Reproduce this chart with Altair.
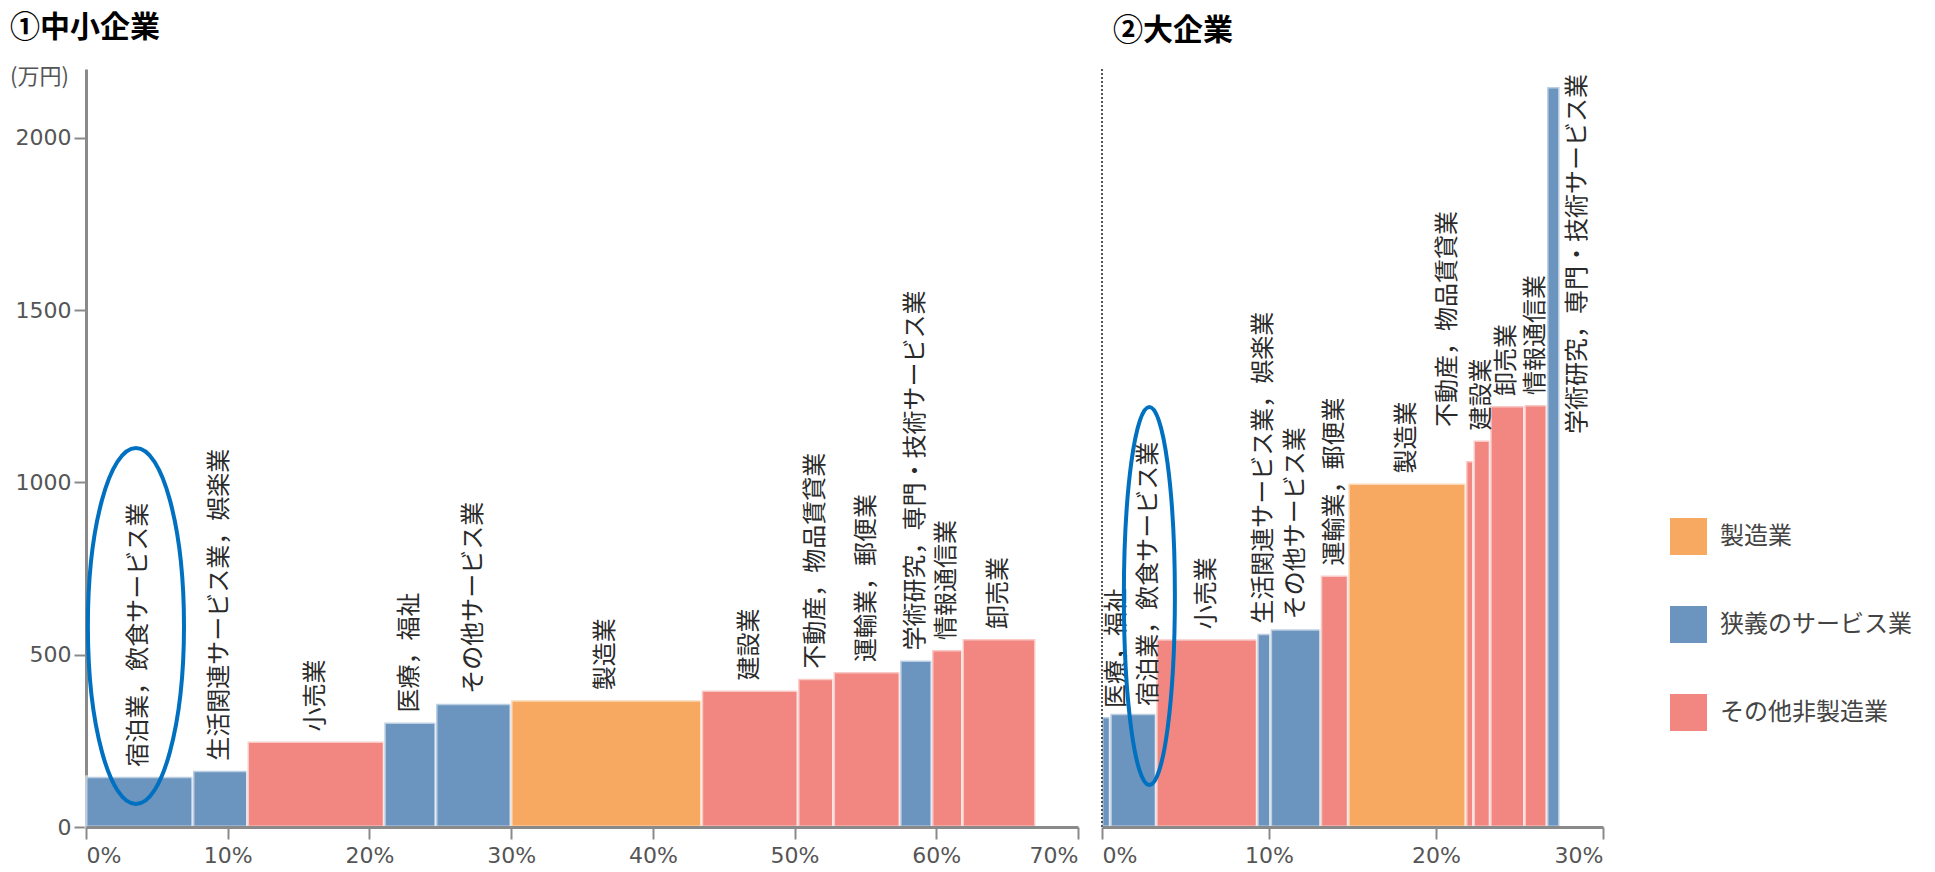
import altair as alt
import pandas as pd

MFG = "製造業"
SVC = "狭義のサービス業"
OTH = "その他非製造業"
groups = [MFG, SVC, OTH]
group_colors = ["#F7A861", "#6B94BE", "#F28781"]

# ① 中小企業 (SMEs)
sme_industry = ["宿泊業，飲食サービス業", "生活関連サービス業，娯楽業", "小売業", "医療，福祉",
                "その他サービス業", "製造業", "建設業", "不動産，物品賃貸業", "運輸業，郵便業",
                "学術研究，専門・技術サービス業", "情報通信業", "卸売業"]
sme_share = [7.55, 3.85, 9.65, 3.65, 5.3, 13.45, 6.8, 2.5, 4.7, 2.25, 2.15, 5.15]
sme_value = [146, 163, 248, 303, 358, 368, 396, 430, 450, 483, 514, 546]
sme_group = [SVC, SVC, OTH, SVC, SVC, MFG, OTH, OTH, OTH, SVC, OTH, OTH]

# ② 大企業 (large enterprises)
large_industry = ["医療，福祉", "宿泊業，飲食サービス業", "小売業", "生活関連サービス業，娯楽業",
                  "その他サービス業", "運輸業，郵便業", "製造業", "不動産，物品賃貸業", "建設業",
                  "卸売業", "情報通信業", "学術研究，専門・技術サービス業"]
large_share = [0.5, 2.75, 6.05, 0.8, 3.0, 1.65, 7.05, 0.45, 1.0, 2.05, 1.35, 0.75]
large_value = [319, 329, 545, 561, 574, 730, 997, 1062, 1122, 1222, 1225, 2148]
large_group = [SVC, SVC, OTH, SVC, SVC, OTH, MFG, OTH, OTH, OTH, OTH, SVC]

x_ticks_sme = [0, 10, 20, 30, 40, 50, 60, 70]
x_ticks_large = [0, 10, 20, 30]
y_ticks = [0, 500, 1000, 1500, 2000]

HIGHLIGHT = "宿泊業，飲食サービス業"


def table(ind, share, val, grp):
    df = pd.DataFrame({"industry": ind, "share": share, "value": val, "group": grp})
    df["end"] = df["share"].cumsum()
    df["start"] = df["end"] - df["share"]
    df["mid"] = (df["start"] + df["end"]) / 2
    return df


df_l = table(sme_industry, sme_share, sme_value, sme_group)
df_r = table(large_industry, large_share, large_value, large_group)

W, H = 1517, 758
AXIS_GRAY = "#8a8a8a"
LABEL_GRAY = "#555555"
JP = "Noto Sans CJK JP"

color_scale = alt.Scale(domain=groups, range=group_colors)
legend = alt.Legend(title=None, orient="none", legendX=1584, legendY=449, padding=0,
                    symbolType="square", symbolSize=1369, symbolStrokeWidth=0,
                    symbolOpacity=1, labelFont=JP, labelFontSize=24, labelColor="#444",
                    rowPadding=51, labelOffset=13, labelLimit=400)
y_scale = alt.Scale(domain=[0, 2200], nice=False, zero=True)
y_axis = alt.Axis(values=y_ticks, format="d", title=None, grid=False, tickSize=12,
                  labelPadding=3, labelFont="DejaVu Sans", labelFontSize=22,
                  labelColor=LABEL_GRAY, domainColor=AXIS_GRAY, domainWidth=3,
                  tickColor=AXIS_GRAY, tickWidth=2)


def x_axis(vals):
    return alt.Axis(orient="bottom", values=vals, title=None, grid=False,
                    labelExpr="datum.value + '%'", labelFlush=True, tickSize=12,
                    labelPadding=6, labelFont="DejaVu Sans", labelFontSize=22,
                    labelColor=LABEL_GRAY, domainColor=AXIS_GRAY, domainWidth=3,
                    tickColor=AXIS_GRAY, tickWidth=2, zindex=1)


xl_scale = alt.Scale(domain=[0, 70], range=[0, 992], nice=False, zero=False)
xr_scale = alt.Scale(domain=[0, 30], range=[1016, 1517], nice=False, zero=False)
xl_axis = x_axis(x_ticks_sme)
xr_axis = x_axis(x_ticks_large)

Y = alt.Y("value:Q", scale=y_scale, axis=y_axis)
TEXT_STYLE = dict(angle=270, baseline="middle", font=JP, fontSize=24, color="#2a2a2a")


def panel(df, xs, xa, ell_ratio, ell_half_h, ell_shift, ell_y, nudges, tall=None, extra=None):
    X = lambda f: alt.X(f, scale=xs, axis=xa)
    bars = alt.Chart(df).mark_rect(stroke="white", strokeWidth=3, strokeOpacity=0.55).encode(
        x=X("start:Q"), x2="end:Q", y=Y, y2=alt.datum(0),
        color=alt.Color("group:N", scale=color_scale, legend=legend),
    )
    special = list(nudges.keys()) + ([tall] if tall else [])
    labels = alt.Chart(df).transform_filter(
        {"not": {"field": "industry", "oneOf": special}} if special else "true"
    ).mark_text(align="left", dx=10, **TEXT_STYLE).encode(
        x=X("mid:Q"), y=Y, text="industry:N")
    layers = [bars, labels]
    for name, (ddx, ddy) in nudges.items():
        layers.append(
            alt.Chart(df).transform_filter(alt.datum.industry == name)
            .mark_text(align="left", dx=ddx, dy=ddy, **TEXT_STYLE)
            .encode(x=X("mid:Q"), y=Y, text="industry:N"))
    if tall:
        # label of the tallest bar sits beside it, hanging from the top of the plot
        layers.append(
            alt.Chart(df).transform_filter(alt.datum.industry == tall)
            .mark_text(align="right", dx=-5, dy=18, **TEXT_STYLE)
            .encode(x=X("end:Q"), y=alt.datum(2200), text="industry:N"))
    r, c = ell_ratio, ell_shift
    path = f"M {c - r} 0 A {r} 1 0 1 0 {c + r} 0 A {r} 1 0 1 0 {c - r} 0 Z"
    ellipse = alt.Chart(df).transform_filter(alt.datum.industry == HIGHLIGHT).mark_point(
        shape=path, size=(2 * ell_half_h) ** 2, filled=False, stroke="#0070C0",
        strokeWidth=4, opacity=1).encode(x=X("mid:Q"), y=alt.value(ell_y))
    layers.append(ellipse)
    if extra is not None:
        layers.append(extra)
    return alt.layer(*layers)


frame_r = alt.Chart(df_r).mark_rule(strokeDash=[2, 2], color="#555", strokeWidth=1.5).encode(
    x=alt.X(datum=0, scale=xr_scale, axis=xr_axis),
    y=alt.datum(0),
    y2=alt.datum(2200),
)

left = panel(df_l, xl_scale, xl_axis, 0.27, 178, -0.02, 557, {})
right = panel(df_r, xr_scale, xr_axis, 0.135, 189, 0.085, 527,
              {"医療，福祉": (9, 11), HIGHLIGHT: (8, 16), "不動産，物品賃貸業": (34, -22)},
              tall="学術研究，専門・技術サービス業", extra=frame_r)


def note(txt, x, y, size, weight="normal", color="#000"):
    return alt.Chart(pd.DataFrame({"t": [txt]})).mark_text(
        align="left", baseline="middle", font=JP, fontSize=size, fontWeight=weight,
        color=color).encode(text="t:N", x=alt.value(x), y=alt.value(y))


t1 = note("①中小企業", -76, -41, 30, "bold")
t2 = note("②大企業", 1027, -38, 30, "bold")
unit = note("(万円)", -76, 8, 22, color=LABEL_GRAY)

chart = alt.layer(left, right, t1, t2, unit).resolve_scale(x="independent").properties(
    width=W, height=H,
    padding={"left": 86, "top": 69, "right": 332, "bottom": 45},
    autosize=alt.AutoSizeParams(type="none"),
).configure_view(stroke=None)

chart.save("out.html", embed_options={"renderer": "svg", "actions": False})
